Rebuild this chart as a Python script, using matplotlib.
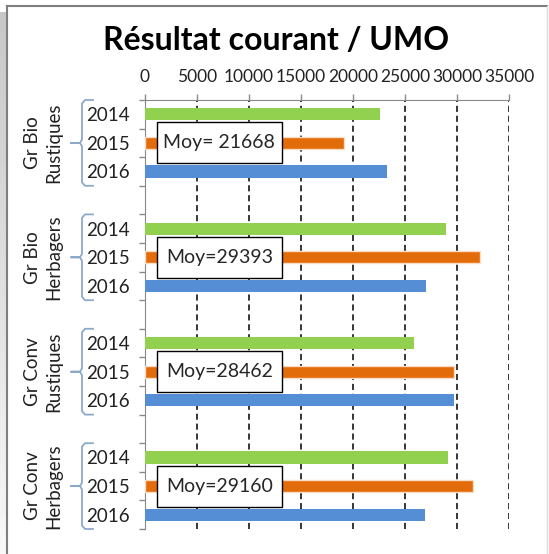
import numpy as np
import matplotlib
matplotlib.use("Agg")
import matplotlib.pyplot as plt
from matplotlib.patches import Rectangle
from matplotlib.lines import Line2D
from matplotlib import transforms

plt.rcParams['font.family'] = ['Lato', 'DejaVu Sans']

# donnees
groupes = ["Gr Bio\nRustiques", "Gr Bio\nHerbagers", "Gr Conv\nRustiques", "Gr Conv\nHerbagers"]
annees = ["2014", "2015", "2016"]
v2014 = [22600, 28950, 25900, 29100]
v2015 = [19100, 32200, 29750, 31500]
v2016 = [23300, 27030, 29740, 26880]
moyennes = ["Moy= 21668", "Moy=29393", "Moy=28462", "Moy=29160"]
xticks = [0, 5000, 10000, 15000, 20000, 25000, 30000, 35000]

couleurs = {"2014": "#92D050", "2015": "#E36C0A", "2016": "#558ED5"}
gris = "#8a8a8a"

W, H = 549, 554
fig = plt.figure(figsize=(W / 100, H / 100), dpi=100)
ax = fig.add_axes([145 / W, 1 - 529 / H, (509 - 145) / W, (529 - 100) / H])

# positions: 3 annees + 1 vide par groupe
pos = {}
for g in range(len(groupes)):
    for i, a in enumerate(annees):
        pos[(g, a)] = g * 4 + i

series = {"2014": v2014, "2015": v2015, "2016": v2016}
for a in annees:
    ys = [pos[(g, a)] for g in range(len(groupes))]
    if a == "2015":
        ax.barh(ys, series[a], height=0.43, color=couleurs[a], edgecolor="#F9DCC4",
                linewidth=1.0, zorder=3)
    else:
        ax.barh(ys, series[a], height=0.43, color=couleurs[a], linewidth=0, zorder=3)

ax.set_xlim(0, 35000)
ax.set_ylim(14.5, -0.5)

# axe x en haut
ax.xaxis.tick_top()
ax.set_xticks(xticks)
ax.set_xticklabels([str(x) for x in xticks], fontsize=12.5, color="#222222")
ax.tick_params(axis="x", direction="out", length=4, width=1, color=gris, pad=7)

# graduations y aux frontieres, etiquettes annees en mineur
ax.set_yticks(np.arange(-0.5, 15, 1))
ax.set_yticklabels([])
ax.tick_params(axis="y", which="major", direction="out", length=4, width=1, color=gris)
ax.set_yticks([pos[(g, a)] for g in range(4) for a in annees], minor=True)
ax.set_yticklabels([a for g in range(4) for a in annees], minor=True, fontsize=13.5, color="#222222")
ax.tick_params(axis="y", which="minor", length=0, pad=11)

for x in xticks[1:]:
    ax.axvline(x, color="black", linestyle=(0, (4, 2.5)), linewidth=1.1, zorder=1)

ax.spines["right"].set_visible(False)
ax.spines["bottom"].set_visible(False)
ax.spines["left"].set_color(gris)
ax.spines["top"].set_color(gris)

# boites moyennes
for g in range(len(groupes)):
    yc = pos[(g, "2015")]
    ax.add_patch(Rectangle((1150, yc - 0.72), 12000, 1.44, facecolor="white",
                           edgecolor="black", linewidth=1, zorder=5))
    ax.text(1150 + 6000, yc, moyennes[g], ha="center", va="center", fontsize=14,
            color="#262626", zorder=6)

# accolades et noms de groupes
tr = transforms.blended_transform_factory(fig.transFigure, ax.transData)
bc = "#8DA9C9"
for g in range(len(groupes)):
    y0 = g * 4 - 0.5
    y1 = g * 4 + 2.5
    ym = g * 4 + 1
    xv = 82 / W
    xh = 93 / W
    xn = 71 / W
    c = 0.12
    pts = [(xh, y0), (xv + 3 / W, y0), (xv, y0 + c), (xv, ym - c), (xv - 2 / W, ym), (xn, ym),
           (xv - 2 / W, ym), (xv, ym + c), (xv, y1 - c), (xv + 3 / W, y1), (xh, y1)]
    fig.add_artist(Line2D([p[0] for p in pts], [p[1] for p in pts], transform=tr,
                          color=bc, linewidth=1.3, solid_joinstyle="round", clip_on=False))
    fig.text(43 / W, ym, groupes[g], transform=tr, rotation=90, ha="center", va="center",
             fontsize=13.5, color="#222222", linespacing=1.35, multialignment="center")

# titre
fig.text(276 / W, 1 - 41 / H, "Résultat courant / UMO", ha="center", va="center",
         fontsize=23, fontweight="bold", color="black")

# cadre
fig.add_artist(Line2D([6.5 / W, 6.5 / W], [0, 1 - 5.5 / H], color="#7f7f7f", linewidth=1.5))
fig.add_artist(Line2D([6.5 / W, 546.5 / W], [1 - 5.5 / H, 1 - 5.5 / H], color="#7f7f7f", linewidth=1.5))
fig.add_artist(Line2D([546.5 / W, 546.5 / W], [0, 1 - 5.5 / H], color="#d9d9d9", linewidth=1))
sh = fig.add_axes([0, 0, 5.5 / W, 1 - 12 / H])
sh.imshow(np.linspace(0.78, 0.97, 100).reshape(-1, 1), cmap="gray", vmin=0, vmax=1,
          aspect="auto", extent=[0, 1, 0, 1])
sh.axis("off")

fig.savefig("out.png", dpi=100)
